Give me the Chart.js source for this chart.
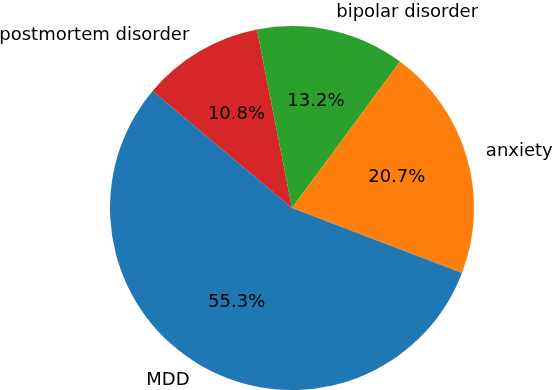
<!DOCTYPE html>
<html>
<head>
<meta charset="utf-8">
<script src="https://cdn.jsdelivr.net/npm/chart.js@4"></script>
<style>
    html, body { margin: 0; padding: 0; background: #fff; overflow: hidden; }
    #wrap { width: 554px; height: 390px; position: relative; }
</style>
</head>
<body>
<div id="wrap"><canvas id="pieChart"></canvas></div>
<script>
// Данные (по часовой стрелке, начиная с postmortem)
const labels = ['postmortem disorder', 'bipolar disorder', 'anxiety', 'MDD'];
const shares = [10.8, 13.2, 20.7, 55.3];
const colors = ['#d62728', '#2ca02c', '#ff7f0e', '#1f77b4'];

const FONT = '18px "DejaVu Sans"';

// Подписи как в matplotlib: имя на 1.1 R, проценты на 0.6 R
const pieLabels = {
    id: 'pieLabels',
    afterDatasetsDraw(chart) {
        const ctx = chart.ctx;
        const meta = chart.getDatasetMeta(0);
        ctx.save();
        ctx.font = FONT;
        ctx.fillStyle = '#000';
        ctx.textBaseline = 'middle';
        meta.data.forEach((arc, i) => {
            const mid = (arc.startAngle + arc.endAngle) / 2;
            const r = arc.outerRadius;
            const cos = Math.cos(mid), sin = Math.sin(mid);

            ctx.textAlign = 'center';
            ctx.fillText(shares[i].toFixed(1) + '%', arc.x + 0.6 * r * cos, arc.y + 0.6 * r * sin);

            const lx = arc.x + 1.11 * r * cos;
            ctx.textAlign = cos > 0 ? 'left' : 'right';
            ctx.fillText(labels[i], lx, arc.y + 1.1 * r * sin);
        });
        ctx.restore();
    }
};

new Chart(document.getElementById('pieChart'), {
    type: 'pie',
    data: {
        labels: labels,
        datasets: [{
            data: shares,
            backgroundColor: colors,
            borderWidth: 0
        }]
    },
    options: {
        responsive: true,
        maintainAspectRatio: false,
        animation: false,
        rotation: -50,
        layout: { padding: { left: 110, right: 80, top: 26, bottom: 0 } },
        plugins: {
            legend: { display: false },
            tooltip: { enabled: false }
        }
    },
    plugins: [pieLabels]
});
</script>
</body>
</html>
